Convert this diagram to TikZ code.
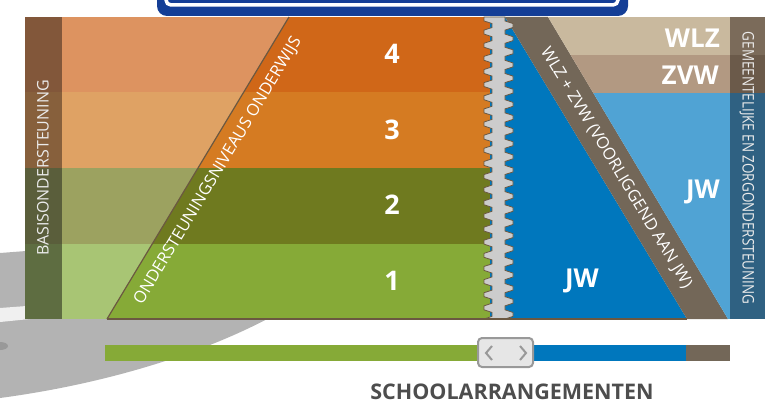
\documentclass[tikz,border=0pt]{standalone}
\usepackage{fontspec}
\setmainfont{Open Sans}
\usepackage{tikz}
\tikzset{>=latex}

\definecolor{frameblue}{HTML}{143E96}
\definecolor{diskgray}{HTML}{B3B3B3}
\definecolor{edge}{HTML}{6B5841}
\definecolor{colfour}{HTML}{82573A}
\definecolor{colthree}{HTML}{87603C}
\definecolor{coltwo}{HTML}{5A5E3B}
\definecolor{colone}{HTML}{5E6D41}
\definecolor{lightfour}{HTML}{DD9360}
\definecolor{lightthree}{HTML}{DFA264}
\definecolor{lighttwo}{HTML}{9CA260}
\definecolor{lightone}{HTML}{A8C574}
\definecolor{rowfour}{HTML}{D06718}
\definecolor{rowthree}{HTML}{D57B22}
\definecolor{rowtwo}{HTML}{6F7A1F}
\definecolor{rowone}{HTML}{86AA37}
\definecolor{jwdark}{HTML}{0077BD}
\definecolor{jwlight}{HTML}{50A3D4}
\definecolor{wlzfill}{HTML}{C9B99E}
\definecolor{zvwfill}{HTML}{B29982}
\definecolor{bandfill}{HTML}{736758}
\definecolor{gemone}{HTML}{7B6B5A}
\definecolor{gemtwo}{HTML}{6B5A4A}
\definecolor{gemthree}{HTML}{2F6182}
\definecolor{zipfill}{HTML}{CCCCCC}
\definecolor{knobfill}{HTML}{E6E6E6}
\definecolor{knobedge}{HTML}{999999}
\definecolor{titlegray}{HTML}{4D4D4D}

\tikzset{
  num/.style={text=white, inner sep=0, font=\bfseries\fontsize{27}{27}\selectfont},
  bigw/.style={text=white, inner sep=0, font=\bfseries\fontsize{26}{26}\selectfont},
  sidetext/.style={text=white!92!black, inner sep=0, font=\fontsize{16}{16}\selectfont},
  slanttext/.style={text=white, inner sep=0, font=\fontsize{16.5}{16.5}\selectfont}
}

\begin{document}
\begin{tikzpicture}[x=1pt,y=-1pt]
        \useasboundingbox (0,0) rectangle (767,414);

        \coordinate (tl) at (289,17);
        \coordinate (bl) at (107,319);
        \coordinate (zt) at (497,17);
        \coordinate (zb) at (497,319);
        \coordinate (bt1) at (505,17);
        \coordinate (bt2) at (548,17);
        \coordinate (bb1) at (687,319);
        \coordinate (bb2) at (728,319);

        \fill[diskgray] (0,253) -- (300,230) -- (300,300) .. controls (230,345) and (120,382) .. (0,398) -- cycle;
        \fill[white!94!black] (0,308) -- (40,305) -- (40,318) -- (0,322) -- cycle;
        \fill[white!60!black] (0,346) ellipse (8 and 4);

        \fill[frameblue, rounded corners=10] (157,-30) rectangle (628,16);
        \draw[white, line width=3.5, rounded corners=5] (166,-30) rectangle (618,5);

        \foreach \ya/\yb/\cl/\cc/\ct in {17/92.5/colfour/lightfour/rowfour,
                92.5/168/colthree/lightthree/rowthree,
                168/243.5/coltwo/lighttwo/rowtwo,
                243.5/319/colone/lightone/rowone}
        {
            \fill[\cl] (25,\ya) rectangle (62,\yb);
            \fill[\cc] (62,\ya) rectangle (497,\yb);
            \begin{scope}
                \clip (bl) -- (tl) -- (zt) -- (zb) -- cycle;
                \fill[\ct] (100,\ya) rectangle (497,\yb);
            \end{scope}
        }

        \fill[jwdark] (490,17) -- (bt1) -- (bb1) -- (490,319) -- cycle;
        \fill[bandfill] (bt1) -- (bt2) -- (bb2) -- (bb1) -- cycle;
        \begin{scope}
            \clip (bt2) -- (730,17) -- (730,319) -- (bb2) -- cycle;
            \fill[wlzfill] (540,17) rectangle (730,55);
            \fill[zvwfill] (540,55) rectangle (730,93);
            \fill[jwlight] (540,93) rectangle (730,319);
        \end{scope}
        \fill[gemone] (730,17) rectangle (765,55);
        \fill[gemtwo] (730,55) rectangle (765,93);
        \fill[gemthree] (730,93) rectangle (765,319);

        \filldraw[fill=zipfill, draw=edge, line width=0.8] (484,17)
            \foreach \i in {0,...,22} {
                -- (484,{17+(\i+0.3)*13.13}) -- (492,{17+(\i+0.5)*13.13})
                -- (492,{17+(\i+0.8)*13.13}) -- (484,{17+(\i+1)*13.13})
            }
            -- (505,319)
            \foreach \i in {22,21,...,0} {
                -- (513,{17+(\i+0.8)*13.13}) -- (513,{17+(\i+0.5)*13.13})
                -- (505,{17+(\i+0.3)*13.13}) -- (505,{17+\i*13.13})
            } -- cycle;

        \draw[edge, line width=1.2] (bl) -- (tl);
        \draw[edge, line width=1.8] (bl) -- (bb1);

        \node[num] (n4) at (392,54) {4};
        \node[num] (n3) at (392,130) {3};
        \node[num] (n2) at (392,205) {2};
        \node[num] (n1) at (392,281) {1};
        \node[bigw, anchor=east] (wlz) at (720,38) {WLZ};
        \node[bigw, anchor=east] (zvw) at (719,75) {ZVW};
        \node[bigw, anchor=east] (jwr) at (720,192) {JW};
        \node[bigw] (jwl) at (582,281) {JW};

        \node[sidetext, rotate=90] (basis) at (43,168) {BASISONDERSTEUNING};
        \node[sidetext, rotate=-90] (gem) at (747,168)
            {\scalebox{0.84}[1]{GEMEENTELIJKE EN ZORGONDERSTEUNING}};
        \node[slanttext, rotate=58.9] (niveau) at (218,171) {ONDERSTEUNINGSNIVEAUS ONDERWIJS};
        \node[slanttext, rotate=-58.9] (voorl) at (616,168) {WLZ + ZVW (VOORLIGGEND AAN JW)};

        \fill[rowone] (105,345) rectangle (480,361);
        \fill[jwdark] (530,345) rectangle (686,361);
        \fill[bandfill] (686,345) rectangle (730,361);
        \draw[knobedge, fill=knobfill, line width=2, rounded corners=4] (478,338) rectangle (533,367);
        \draw[knobedge, line width=2] (492,346) -- (486,353) -- (492,360);
        \draw[knobedge, line width=2] (520,346) -- (526,353) -- (520,360);

        \node[text=titlegray, inner sep=0, font=\bfseries\fontsize{21.5}{21.5}\selectfont] (arr) at (512,392) {SCHOOLARRANGEMENTEN};
    \end{tikzpicture}
\end{document}
